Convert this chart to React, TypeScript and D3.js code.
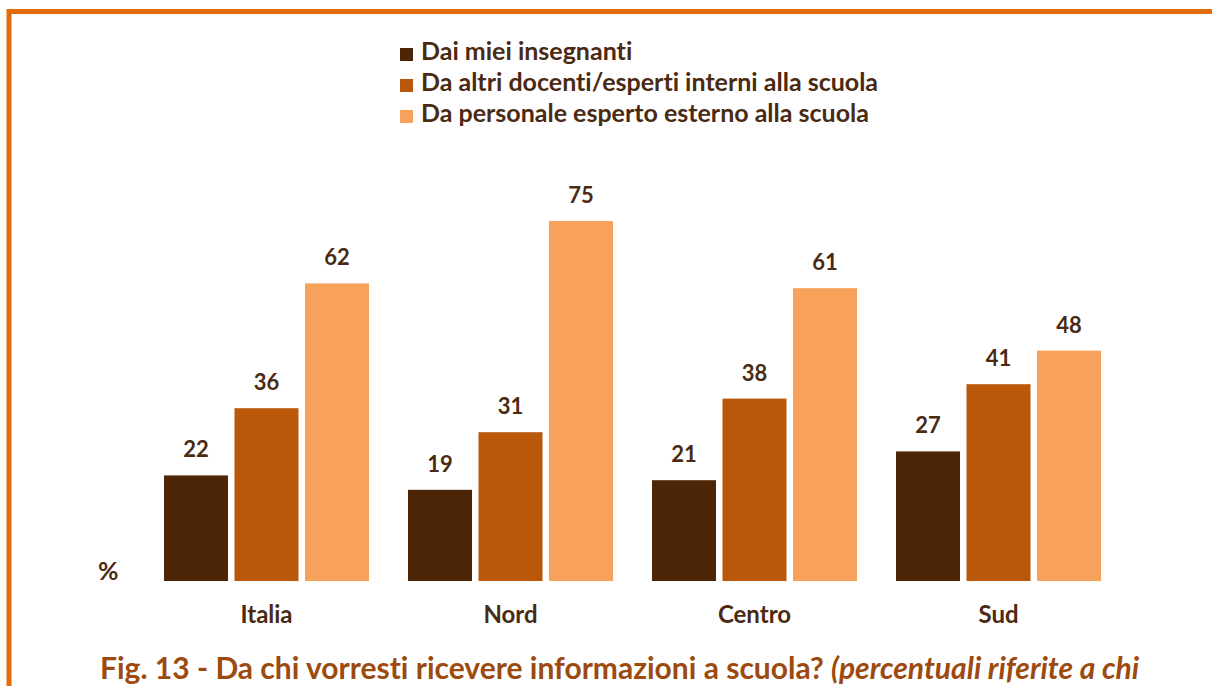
import React from "react";
import * as d3 from "d3";

const regions = ["Italia", "Nord", "Centro", "Sud"];
const seriesNames = [
  "Dai miei insegnanti",
  "Da altri docenti/esperti interni alla scuola",
  "Da personale esperto esterno alla scuola",
];
const insegnanti = [22, 19, 21, 27];
const interni = [36, 31, 38, 41];
const esterni = [62, 75, 61, 48];
const colors = ["#4D2507", "#B9570B", "#F7A15B"];

const W = 1212, H = 686;
const textColor = "#4A2A12";
const font = "Lato, 'Open Sans', sans-serif";

export default function App() {
  const series = [insegnanti, interni, esterni];
  const x0 = d3.scaleBand().domain(regions).range([132, 1108]).paddingInner(0.0).paddingOuter(0);
  const x1 = d3.scaleBand().domain(["0", "1", "2"]).range([32, 237]).paddingInner(0.092);
  const y = d3.scaleLinear().domain([0, 75]).range([581, 221]);

  return (
    <svg width={W} height={H} style={{ position: "absolute", left: 0, top: 0, background: "#fff", fontVariantLigatures: "none" }} fontFamily={font}>
      <rect x={0} y={0} width={W} height={H} fill="#fff" />
      <line x1={9} y1={11.5} x2={W} y2={11.5} stroke="#E36C0A" strokeWidth={5} />
      <line x1={9} y1={9} x2={9} y2={H} stroke="#E36C0A" strokeWidth={5} />

      {seriesNames.map((s, i) => (
        <g key={s} transform={`translate(400, ${60 + i * 31})`}>
          <rect x={0} y={-12} width={13} height={13} fill={colors[i]} />
          <text x={21} y={0} fontSize={25} fontWeight="bold" fill={textColor}>{s}</text>
        </g>
      ))}

      {regions.map((r, gi) => (
        <g key={r} transform={`translate(${x0(r)}, 0)`}>
          {series.map((vals, si) => {
            const bx = x1(String(si))!;
            const v = vals[gi];
            return (
              <g key={si}>
                <rect x={bx} y={y(v)} width={x1.bandwidth()} height={581 - y(v)} fill={colors[si]} />
                <text x={bx + x1.bandwidth() / 2} y={y(v) - 18} textAnchor="middle" fontSize={22} fontWeight="bold" fill={textColor}>{v}</text>
              </g>
            );
          })}
          <text x={(x1("0")! + x1("2")! + x1.bandwidth()) / 2} y={623} textAnchor="middle" fontSize={24} fontWeight="bold" fill={textColor}>{r}</text>
        </g>
      ))}

      <text x={98} y={580} fontSize={25} fontWeight="bold" fill={textColor}>%</text>

      <text x={100} y={679} fontSize={30} fontWeight="bold" fill="#9C4A10">
        Fig. 13 - Da chi vorresti ricevere informazioni a scuola?{" "}
        <tspan fontStyle="italic">(percentuali riferite a chi</tspan>
      </text>
    </svg>
  );
}
